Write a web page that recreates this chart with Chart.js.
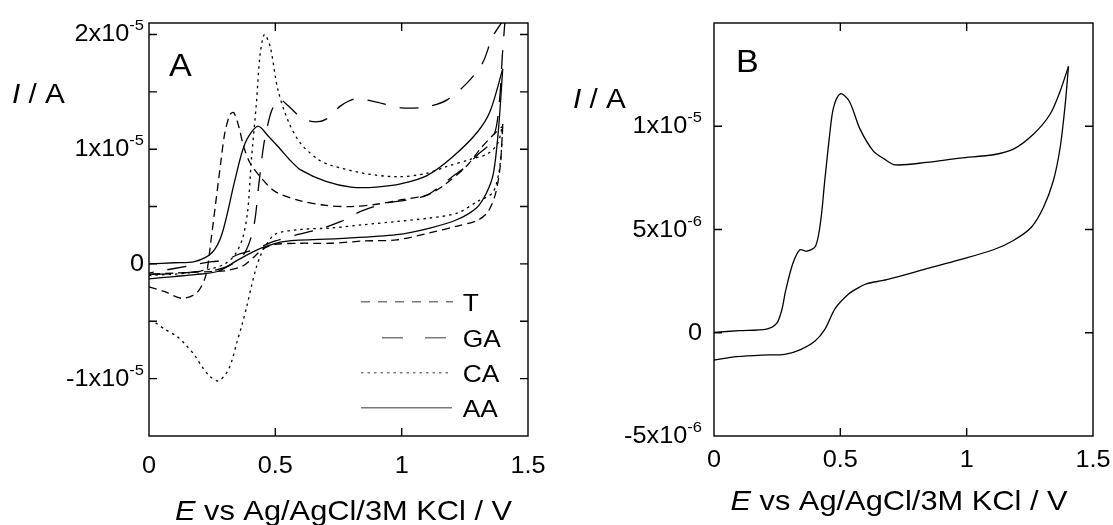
<!DOCTYPE html>
<html>
<head>
<meta charset="utf-8">
<script src="https://cdn.jsdelivr.net/npm/chart.js"></script>
<style>
    body {
        margin: 0;
        background-color: white;
    }

    #wrap {
        position: relative;
        width: 1113px;
        height: 525px;
        overflow: hidden;
        background-color: white;
    }

    canvas {
        position: absolute;
        top: 0;
    }

    #cvA { left: 0; }
    #cvB { left: 556px; }
</style>
</head>
<body>

<div id="wrap">
    <canvas id="cvA" width="556" height="525"></canvas>
    <canvas id="cvB" width="557" height="525"></canvas>
</div>

<script>
    // Panel A: potential in V, current in units of 1e-5 A
    // T (forward / reverse sweep)
    const tFwdE = [0, 0.06, 0.13, 0.19, 0.225, 0.245, 0.265, 0.285, 0.30, 0.32, 0.335, 0.355, 0.375, 0.40, 0.44, 0.50, 0.60, 0.70, 0.80, 0.90, 1.00, 1.10, 1.17, 1.26, 1.31, 1.36, 1.40];
    const tFwdI = [-0.20, -0.24, -0.30, -0.25, -0.10, 0.20, 0.55, 0.90, 1.14, 1.30, 1.32, 1.20, 1.02, 0.88, 0.76, 0.63, 0.55, 0.51, 0.50, 0.52, 0.56, 0.60, 0.69, 0.86, 1.00, 1.12, 1.20];
    const tRevE = [1.40, 1.39, 1.37, 1.34, 1.30, 1.22, 1.11, 0.98, 0.85, 0.72, 0.60, 0.50, 0.45, 0.42, 0.37, 0.30, 0.20, 0.10, 0];
    const tRevI = [1.20, 0.85, 0.60, 0.45, 0.38, 0.33, 0.27, 0.21, 0.20, 0.18, 0.18, 0.17, 0.13, 0.07, -0.02, -0.06, -0.07, -0.08, -0.09];

    // GA
    const gFwdE = [0, 0.10, 0.20, 0.27, 0.33, 0.38, 0.415, 0.435, 0.455, 0.48, 0.50, 0.52, 0.55, 0.60, 0.65, 0.70, 0.76, 0.82, 0.90, 1.00, 1.10, 1.18, 1.26, 1.32, 1.36, 1.41];
    const gFwdI = [-0.09, -0.085, -0.065, -0.05, 0.00, 0.10, 0.33, 0.70, 1.05, 1.30, 1.40, 1.43, 1.38, 1.28, 1.24, 1.26, 1.38, 1.44, 1.41, 1.36, 1.37, 1.43, 1.58, 1.75, 1.98, 2.15];
    const gRevE = [1.41, 1.398, 1.39, 1.375, 1.35, 1.30, 1.25, 1.20, 1.16, 1.10, 1.03, 0.94, 0.84, 0.76, 0.67, 0.58, 0.50, 0.41, 0.35, 0.30, 0.25, 0.15, 0.05, 0];
    const gRevI = [2.15, 1.80, 1.50, 1.20, 1.05, 0.95, 0.84, 0.76, 0.69, 0.60, 0.56, 0.53, 0.46, 0.37, 0.30, 0.25, 0.20, 0.12, 0.08, 0.03, 0.02, -0.02, -0.06, -0.08];

    // CA
    const cFwdE = [0, 0.15, 0.25, 0.30, 0.34, 0.37, 0.39, 0.405, 0.425, 0.44, 0.457, 0.48, 0.51, 0.55, 0.60, 0.67, 0.72, 0.85, 0.98, 1.09, 1.18, 1.27, 1.34, 1.38, 1.40];
    const cFwdI = [-0.10, -0.08, -0.04, 0.00, 0.08, 0.22, 0.45, 0.90, 1.40, 1.83, 2.00, 1.89, 1.52, 1.25, 1.05, 0.91, 0.86, 0.79, 0.76, 0.785, 0.85, 0.91, 0.96, 1.05, 1.22];
    const cRevE = [1.40, 1.395, 1.385, 1.36, 1.30, 1.22, 1.11, 0.98, 0.85, 0.72, 0.60, 0.50, 0.46, 0.44, 0.426, 0.406, 0.387, 0.367, 0.347, 0.327, 0.307, 0.274, 0.241, 0.208, 0.182, 0.143, 0.11, 0.063, 0.024];
    const cRevI = [1.22, 1.00, 0.80, 0.62, 0.545, 0.443, 0.40, 0.37, 0.342, 0.313, 0.30, 0.26, 0.153, 0.066, -0.02, -0.19, -0.37, -0.54, -0.69, -0.85, -0.95, -1.02, -0.98, -0.89, -0.80, -0.70, -0.63, -0.57, -0.51];

    // AA
    const aFwdE = [0, 0.10, 0.18, 0.25, 0.29, 0.34, 0.38, 0.43, 0.47, 0.52, 0.56, 0.60, 0.70, 0.80, 0.90, 1.00, 1.10, 1.20, 1.30, 1.35, 1.40];
    const aFwdI = [0.00, 0.01, 0.02, 0.10, 0.27, 0.73, 1.05, 1.20, 1.12, 1.00, 0.90, 0.82, 0.72, 0.67, 0.67, 0.70, 0.77, 0.93, 1.15, 1.33, 1.70];
    const aRevE = [1.40, 1.383, 1.363, 1.336, 1.297, 1.218, 1.112, 0.98, 0.75, 0.54, 0.446, 0.354, 0.274, 0.182, 0.10, 0];
    const aRevI = [1.70, 1.17, 0.79, 0.62, 0.49, 0.385, 0.313, 0.255, 0.22, 0.197, 0.139, 0.037, -0.064, -0.093, -0.11, -0.13];

    // Panel B: potential in V, current in units of 1e-6 A
    const bFwdE = [0, 0.10, 0.208, 0.248, 0.268, 0.284, 0.312, 0.34, 0.368, 0.403, 0.424, 0.437, 0.458, 0.473, 0.50, 0.535, 0.578, 0.63, 0.675, 0.717, 0.842, 0.974, 1.106, 1.185, 1.264, 1.33, 1.37, 1.403];
    const bFwdI = [0.02, 0.10, 0.18, 0.45, 1.09, 2.06, 3.35, 4.02, 3.95, 4.23, 5.59, 7.2, 9.61, 10.9, 11.57, 11.22, 9.86, 8.81, 8.41, 8.13, 8.25, 8.46, 8.62, 8.89, 9.61, 10.58, 11.7, 12.9];
    const bRevE = [1.403, 1.39, 1.37, 1.343, 1.304, 1.256, 1.185, 1.106, 0.974, 0.842, 0.684, 0.605, 0.577, 0.535, 0.48, 0.438, 0.40, 0.34, 0.28, 0.19, 0.09, 0];
    const bRevI = [12.9, 11.06, 8.97, 7.36, 6.08, 5.11, 4.47, 4.02, 3.54, 3.1, 2.57, 2.38, 2.22, 1.9, 1.18, 0.15, -0.4, -0.83, -1.05, -1.08, -1.16, -1.32];

    // Tick labels
    const xTickVals = [0, 0.5, 1, 1.5];
    const xTickText = ["0", "0.5", "1", "1.5"];
    const aYTickVals = [-1, 0, 1, 2];
    const aYTickText = ["-1x10", "0", "1x10", "2x10"];
    const aYTickExp = ["-5", "", "-5", "-5"];
    const bYTickVals = [-5, 0, 5, 10];
    const bYTickText = ["-5x10", "0", "5x10", "1x10"];
    const bYTickExp = ["-6", "", "-6", "-5"];
    const legendLabels = ["T", "GA", "CA", "AA"];

    const FONT = "'Liberation Sans', Arial, sans-serif";
    const SX = 1.1; // text is a little wide in this figure

    function pts(xs, ys) {
        return xs.map((x, i) => ({ x: x, y: ys[i] }));
    }

    // draw a run of text pieces (italic / superscript) side by side
    function drawRuns(ctx, parts, x, y, align) {
        let w = 0;
        parts.forEach(p => {
            ctx.font = p.f;
            p.w = ctx.measureText(p.t).width * SX;
            w += p.w;
        });
        let cx = align === "right" ? x - w : align === "center" ? x - w / 2 : x;
        parts.forEach(p => {
            ctx.save();
            ctx.font = p.f;
            ctx.textAlign = "left";
            ctx.textBaseline = "alphabetic";
            ctx.translate(cx, y + (p.dy || 0));
            ctx.scale(SX, 1);
            ctx.fillText(p.t, 0, 0);
            ctx.restore();
            cx += p.w;
        });
    }

    // frame, inward ticks, tick labels and titles
    function axesPlugin(cfg) {
        return {
            id: "axesFrame",
            afterDraw(chart) {
                const ctx = chart.ctx, a = chart.chartArea;
                const xs = chart.scales.x, ys = chart.scales.y;
                ctx.save();
                ctx.strokeStyle = "#000";
                ctx.lineWidth = 1.4;
                ctx.strokeRect(a.left, a.top, a.right - a.left, a.bottom - a.top);

                ctx.beginPath();
                cfg.yMarks.forEach(v => {
                    const py = ys.getPixelForValue(v);
                    ctx.moveTo(a.left, py); ctx.lineTo(a.left + 8, py);
                    ctx.moveTo(a.right, py); ctx.lineTo(a.right - 8, py);
                });
                [0.5, 1].forEach(v => {
                    const px = xs.getPixelForValue(v);
                    ctx.moveTo(px, a.top); ctx.lineTo(px, a.top + 8);
                    ctx.moveTo(px, a.bottom); ctx.lineTo(px, a.bottom - 8);
                });
                ctx.stroke();

                ctx.fillStyle = "#000";
                cfg.yVals.forEach((v, i) => {
                    const py = ys.getPixelForValue(v);
                    const parts = [{ t: cfg.yText[i], f: "23px " + FONT }];
                    if (cfg.yExp[i]) parts.push({ t: cfg.yExp[i], f: "15px " + FONT, dy: -11 });
                    drawRuns(ctx, parts, a.left - cfg.yGap, py + 7, "right");
                });
                xTickVals.forEach((v, i) => {
                    drawRuns(ctx, [{ t: xTickText[i], f: "23px " + FONT }], xs.getPixelForValue(v), cfg.xLabelY, "center");
                });

                drawRuns(ctx, [
                    { t: "E", f: "italic 28px " + FONT },
                    { t: " vs Ag/AgCl/3M KCl / V", f: "28px " + FONT }
                ], cfg.titleX, cfg.titleY, "center");
                drawRuns(ctx, [
                    { t: "I", f: "italic 27px " + FONT },
                    { t: " / A", f: "27px " + FONT }
                ], cfg.yTitleX, cfg.yTitleY, "left");
                drawRuns(ctx, [{ t: cfg.letter, f: "31px " + FONT }], cfg.letterX, cfg.letterY, "left");
                ctx.restore();
            }
        };
    }

    // legend in the lower right of panel A
    const legendPlugin = {
        id: "insetLegend",
        afterDraw(chart) {
            const ctx = chart.ctx;
            const rows = [
                { y: 301.7, x0: 361, x1: 453, dash: [9, 8] },
                { y: 337.7, x0: 382, x1: 447, dash: [21, 22] },
                { y: 372.7, x0: 361, x1: 451, dash: [2.5, 4] },
                { y: 407.7, x0: 361, x1: 452, dash: [] }
            ];
            ctx.save();
            rows.forEach((r, i) => {
                ctx.strokeStyle = "#7a7a7a";
                ctx.lineWidth = 1.5;
                ctx.setLineDash(r.dash);
                ctx.beginPath();
                ctx.moveTo(r.x0, r.y);
                ctx.lineTo(r.x1, r.y);
                ctx.stroke();
                ctx.setLineDash([]);
                ctx.fillStyle = "#000";
                drawRuns(ctx, [{ t: legendLabels[i], f: "24px " + FONT }], 462.7, r.y + 9.5, "left");
            });
            ctx.restore();
        }
    };

    function curve(data, dash) {
        return {
            data: data,
            showLine: true,
            borderColor: "#000",
            borderWidth: 1.3,
            borderDash: dash,
            pointRadius: 0,
            tension: 0.3,
            fill: false
        };
    }

    const dashT = [8, 5], dashGA = [19, 14], dashCA = [2.5, 4];

    new Chart(document.getElementById("cvA"), {
        type: "scatter",
        data: {
            datasets: [
                curve(pts(tFwdE, tFwdI), dashT),
                curve(pts(tRevE, tRevI), dashT),
                curve(pts(gFwdE, gFwdI), dashGA),
                curve(pts(gRevE, gRevI), dashGA),
                curve(pts(cFwdE, cFwdI), dashCA),
                curve(pts(cRevE, cRevI), dashCA),
                curve(pts(aFwdE, aFwdI), []),
                curve(pts(aRevE, aRevI), [])
            ]
        },
        options: {
            responsive: false,
            animation: false,
            devicePixelRatio: 1,
            layout: { padding: { left: 149, top: 23, right: 28, bottom: 89 } },
            plugins: { legend: { display: false }, tooltip: { enabled: false } },
            scales: {
                x: { type: "linear", min: 0, max: 1.5, display: false },
                y: { type: "linear", min: -1.5, max: 2.1, display: false }
            }
        },
        plugins: [axesPlugin({
            yMarks: [-1, -0.5, 0, 0.5, 1, 1.5, 2],
            yVals: aYTickVals, yText: aYTickText, yExp: aYTickExp, yGap: 5,
            xLabelY: 472.7,
            titleX: 343.5, titleY: 520,
            yTitleX: 12, yTitleY: 103,
            letter: "A", letterX: 169, letterY: 76
        }), legendPlugin]
    });

    new Chart(document.getElementById("cvB"), {
        type: "scatter",
        data: {
            datasets: [
                curve(pts(bFwdE, bFwdI), []),
                curve(pts(bRevE, bRevI), [])
            ]
        },
        options: {
            responsive: false,
            animation: false,
            devicePixelRatio: 1,
            layout: { padding: { left: 158, top: 23, right: 20, bottom: 89 } },
            plugins: { legend: { display: false }, tooltip: { enabled: false } },
            scales: {
                x: { type: "linear", min: 0, max: 1.5, display: false },
                y: { type: "linear", min: -5, max: 15, display: false }
            }
        },
        plugins: [axesPlugin({
            yMarks: [0, 5, 10],
            yVals: bYTickVals, yText: bYTickText, yExp: bYTickExp, yGap: 12,
            xLabelY: 466.7,
            titleX: 343, titleY: 510,
            yTitleX: 17, yTitleY: 108,
            letter: "B", letterX: 180, letterY: 72
        })]
    });
</script>

</body>
</html>
